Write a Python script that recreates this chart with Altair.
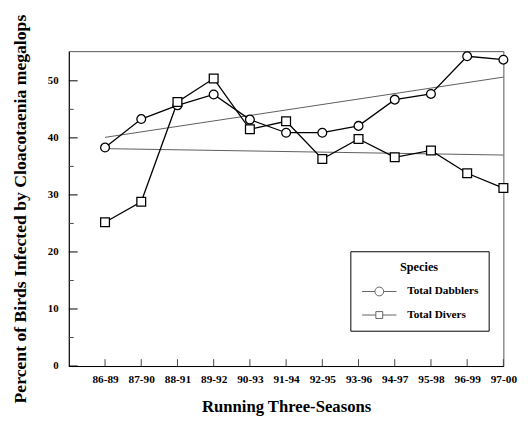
import altair as alt
import pandas as pd

seasons = ["86-89", "87-90", "88-91", "89-92", "90-93", "91-94",
           "92-95", "93-96", "94-97", "95-98", "96-99", "97-00"]
dabblers = [38.3, 43.3, 45.7, 47.6, 43.2, 40.9, 40.9, 42.1, 46.7, 47.7, 54.3, 53.7]
divers = [25.2, 28.8, 46.3, 50.4, 41.5, 42.9, 36.3, 39.8, 36.6, 37.8, 33.8, 31.2]
species = ["Total Dabblers", "Total Divers"]
major_ticks = [0, 10, 20, 30, 40, 50]
minor_ticks = [5, 15, 25, 35, 45]

rows = []
for i, s in enumerate(seasons):
    rows.append({"idx": i, "season": s, "species": species[0], "pct": dabblers[i]})
    rows.append({"idx": i, "season": s, "species": species[1], "pct": divers[i]})
df = pd.DataFrame(rows)

W, H = 443, 321
FONT = "Liberation Serif"

label_expr = "[" + ",".join("'%s'" % s for s in seasons) + "][datum.value]"

xscale = alt.Scale(domain=[-1, 11], nice=False, zero=False)
yscale = alt.Scale(domain=[0, 55.2], nice=False, zero=True)

xaxis = alt.Axis(values=list(range(len(seasons))), labelExpr=label_expr,
                 title="Running Three-Seasons", grid=False, ticks=False,
                 labelOverlap=False, labelFlush=False, labelBound=False,
                 labelPadding=8, titlePadding=14, domainColor="black",
                 labelFont=FONT, labelFontWeight="bold", labelFontSize=11.5,
                 labelColor="black", titleFont=FONT, titleFontWeight="bold",
                 titleFontSize=17, titleColor="black")
yaxis = alt.Axis(values=major_ticks, title="Percent of Birds Infected by Cloacotaenia megalops",
                 grid=False, ticks=False, labelOverlap=False, labelPadding=11, titlePadding=18,
                 domainColor="black", labelFont=FONT, labelFontWeight="bold",
                 labelFontSize=11, labelColor="black", titleFont=FONT,
                 titleFontWeight="bold", titleFontSize=18, titleColor="black")


def X():
    return alt.X("idx:Q", scale=xscale, axis=xaxis)


def Y():
    return alt.Y("pct:Q", scale=yscale, axis=yaxis)


base = alt.Chart(df)

reg = base.transform_regression("idx", "pct", groupby=["species"]).mark_line(
    color="#333333", strokeWidth=0.8
).encode(x=X(), y=Y(), detail="species:N")

lines = base.mark_line(color="black", strokeWidth=1.3).encode(
    x=X(), y=Y(), detail="species:N")

points = base.mark_point(filled=True, fill="white", stroke="black", strokeWidth=1.3,
                         size=80, opacity=1).encode(
    x=X(), y=Y(),
    shape=alt.Shape("species:N", scale=alt.Scale(domain=species, range=["circle", "square"]),
                    legend=None))

path_c = "M-1.75,0L-0.45,0M0.45,0L1.75,0M-0.45,0A0.45,0.45,0,1,0,0.45,0A0.45,0.45,0,1,0,-0.45,0Z"
path_s = "M-1.75,0L-0.35,0M0.35,0L1.75,0M-0.35,-0.35L0.35,-0.35L0.35,0.35L-0.35,0.35Z"

legend_layer = base.transform_filter("datum.idx < 0").mark_point(
    filled=False, color="black").encode(
    x=X(), y=Y(),
    shape=alt.Shape("species:N", scale=alt.Scale(domain=species, range=[path_c, path_s]),
                    legend=alt.Legend(title="Species", orient="none", legendX=287, legendY=204,
                                      padding=10, symbolOffset=9, labelOffset=18,
                                      symbolSize=400, symbolStrokeWidth=1,
                                      symbolStrokeColor="#222222", symbolFillColor="white",
                                      rowPadding=7, titlePadding=8, titleAnchor="middle",
                                      strokeColor="black", fillColor="white",
                                      titleFont=FONT, titleFontWeight="bold", titleFontSize=12.5,
                                      titleColor="black", labelFont=FONT,
                                      labelFontWeight="bold", labelFontSize=11.5,
                                      labelColor="black", labelLimit=200)))

ytick_df = pd.DataFrame({"pct": major_ticks})
ymin_df = pd.DataFrame({"pct": minor_ticks})
xtick_df = pd.DataFrame({"idx": list(range(len(seasons)))})

yticks = alt.Chart(ytick_df).mark_rule(color="black", strokeWidth=1).encode(
    y=Y(), x=alt.value(0), x2=alt.value(9))
yminor = alt.Chart(ymin_df).mark_rule(color="#444444", strokeWidth=1).encode(
    y=Y(), x=alt.value(0), x2=alt.value(5))
xticks = alt.Chart(xtick_df).mark_rule(color="#444444", strokeWidth=1).encode(
    x=X(), y=alt.value(H), y2=alt.value(H - 7))

chart = alt.layer(reg, lines, yticks, yminor, xticks, points, legend_layer).resolve_scale(
    shape="independent"
).properties(
    width=W, height=H,
    padding={"left": 4, "top": 2, "right": 6, "bottom": 0},
    background="white"
).configure_view(stroke="#555555", strokeWidth=1)

chart.save("out.html", embed_options={"renderer": "svg", "actions": False})
